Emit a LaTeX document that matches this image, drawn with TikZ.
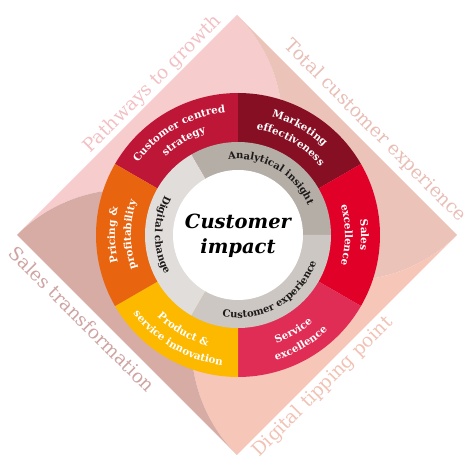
\documentclass[tikz,border=0pt]{standalone}
\usepackage{fontspec}
\setmainfont{DejaVu Serif}
\usetikzlibrary{decorations.text}
\definecolor{mypink}{RGB}{246,204,204}
\definecolor{mytan}{RGB}{236,195,185}
\definecolor{mypeach}{RGB}{246,199,185}
\definecolor{mymauve}{RGB}{214,172,165}
\definecolor{mystrategy}{RGB}{190,22,55}
\definecolor{mymarketing}{RGB}{135,15,35}
\definecolor{mysales}{RGB}{225,0,40}
\definecolor{myservice}{RGB}{224,45,85}
\definecolor{myproduct}{RGB}{252,185,0}
\definecolor{mypricing}{RGB}{232,100,15}
\definecolor{myanalytical}{RGB}{181,174,167}
\definecolor{myexperience}{RGB}{204,199,194}
\definecolor{mydigital}{RGB}{224,221,218}
\definecolor{mytextdark}{RGB}{30,26,26}
\definecolor{mypathways}{RGB}{242,192,196}
\definecolor{mytotal}{RGB}{232,190,182}
\definecolor{mysalestr}{RGB}{206,164,162}
\definecolor{mytipping}{RGB}{241,194,180}
\newcommand{\halfdiag}{220}
\newcommand{\petalradius}{155.56pt}
\newcommand{\radiusouter}{142pt}
\newcommand{\radiusmid}{93pt}
\newcommand{\radiusinner}{65pt}
\newcommand{\ringfont}{\fontsize{10.3}{12}\selectfont\bfseries\color{white}}
\newcommand{\grayfont}{\fontsize{10}{12}\selectfont\bfseries\color{mytextdark}}
\newcommand{\edgefont}{\fontsize{18.5}{22}\selectfont}
% clockwise label (upper half), counterclockwise label (lower half)
\newcommand{\cwlabel}[3]{\path[ringlabel={#3}] (#1+45:#2) arc[start angle=#1+45, end angle=#1-45, radius=#2];}
\newcommand{\ccwlabel}[3]{\path[ringlabel={#3}] (#1-45:#2) arc[start angle=#1-45, end angle=#1+45, radius=#2];}
\tikzset{
    ringlabel/.style={decorate, decoration={text along path, text align=center, text={#1}}},
    edgelabel/.style={font=\edgefont, inner sep=0pt},
    impact/.style={font=\fontsize{19.5}{25}\selectfont\bfseries\itshape, align=center, text=black}
}

\begin{document}
\begin{tikzpicture}[x=1pt, y=1pt]
    \useasboundingbox (-237,-233) rectangle (237,235);

    % background petals
    \foreach \r/\col in {0/mypink, -90/mytan, -180/mypeach, -270/mymauve}
        \fill[\col, rotate=\r] (-\halfdiag,0) -- (0,\halfdiag)
            arc[start angle=45, end angle=-45, radius=\petalradius]
            arc[start angle=45, end angle=135, radius=\petalradius] -- cycle;

    \node[edgelabel, text=mypathways, rotate=45] (pathways) at (-84,151) {Pathways to growth};
    \node[edgelabel, text=mytotal, rotate=-45] (total) at (138,104) {Total customer experience};
    \node[edgelabel, text=mysalestr, rotate=-45] (salestr) at (-155,-84) {Sales transformation};
    \node[edgelabel, text=mytipping, rotate=45] (tipping) at (86,-152) {Digital tipping point};

    \begin{scope}[shift={(1,0)}]
        \coordinate (W) at (0,0);
        % outer ring
        \foreach \a/\col in {90/mystrategy, 30/mymarketing, -30/mysales, -90/myservice, -150/myproduct, 150/mypricing}
            \fill[\col] (W) -- (\a:\radiusouter) arc[start angle=\a, end angle=\a+60, radius=\radiusouter] -- cycle;
        % inner ring
        \foreach \a/\col in {0/myanalytical, 120/mydigital, 240/myexperience}
            \fill[\col] (W) -- (\a:\radiusmid) arc[start angle=\a, end angle=\a+120, radius=\radiusmid] -- cycle;
        \fill[white] (W) circle[radius=\radiusinner];

        \node[impact] (impacttext) at (0,-1) {Customer\\impact};

        \cwlabel{120}{123pt}{|\ringfont|Customer centred}
        \cwlabel{120}{107pt}{|\ringfont|strategy}
        \cwlabel{60}{123pt}{|\ringfont|Marketing}
        \cwlabel{60}{107pt}{|\ringfont|effectiveness}
        \cwlabel{0}{123pt}{|\ringfont|Sales}
        \cwlabel{0}{107pt}{|\ringfont|excellence}
        \cwlabel{180}{123pt}{|\ringfont|Pricing {\&}}
        \cwlabel{180}{107pt}{|\ringfont|profitability}
        \ccwlabel{-60}{115pt}{|\ringfont|Service}
        \ccwlabel{-60}{131pt}{|\ringfont|excellence}
        \ccwlabel{-120}{115pt}{|\ringfont|Product {\&}}
        \ccwlabel{-120}{131pt}{|\ringfont|service innovation}

        \cwlabel{60}{76pt}{|\grayfont|Analytical insight}
        \ccwlabel{-60}{83pt}{|\grayfont|Customer experience}
        \ccwlabel{180}{83pt}{|\grayfont|Digital change}
    \end{scope}
\end{tikzpicture}
\end{document}
